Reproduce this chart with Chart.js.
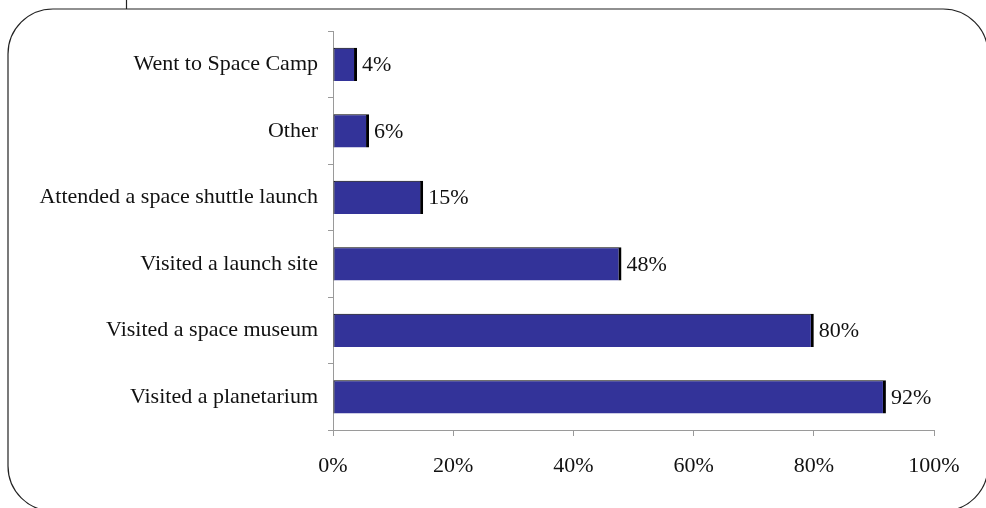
<!DOCTYPE html>
<html>
<head>
<meta charset="utf-8">
<script src="https://cdn.jsdelivr.net/npm/chart.js@4.4.0/dist/chart.umd.min.js"></script>
<style>
  html, body { margin: 0; padding: 0; background: #fff; }
  #wrap { width: 986px; height: 508px; position: relative; }
</style>
</head>
<body>
<div id="wrap"><canvas id="spaceChart" width="986" height="508"></canvas></div>
<script>
const categories = [
  'Went to Space Camp',
  'Other',
  'Attended a space shuttle launch',
  'Visited a launch site',
  'Visited a space museum',
  'Visited a planetarium'
];
const percents = [4, 6, 15, 48, 80, 92];
const tickValues = [0, 20, 40, 60, 80, 100];

const serif = '"Liberation Serif", "Times New Roman", serif';
const fontSize = 22;
const axisGray = '#9a9a9a';

// rounded frame that runs off the canvas at right and bottom
const framePlugin = {
  id: 'frame',
  beforeDraw(chart) {
    const ctx = chart.ctx;
    const x = 8, y = 9, w = 980, h = 502, r = 45;
    ctx.save();
    ctx.strokeStyle = '#222';
    ctx.lineWidth = 1.2;
    ctx.beginPath();
    ctx.moveTo(x + r, y);
    ctx.lineTo(x + w - r, y);
    ctx.arcTo(x + w, y, x + w, y + r, r);
    ctx.lineTo(x + w, y + h - r);
    ctx.arcTo(x + w, y + h, x + w - r, y + h, r);
    ctx.lineTo(x + r, y + h);
    ctx.arcTo(x, y + h, x, y + h - r, r);
    ctx.lineTo(x, y + r);
    ctx.arcTo(x, y, x + r, y, r);
    ctx.stroke();
    ctx.beginPath();
    ctx.moveTo(126.5, 0);
    ctx.lineTo(126.5, y);
    ctx.stroke();
    ctx.restore();
  }
};

const valueLabels = {
  id: 'valueLabels',
  afterDatasetsDraw(chart) {
    const ctx = chart.ctx;
    const meta = chart.getDatasetMeta(0);
    ctx.save();
    ctx.font = fontSize + 'px ' + serif;
    ctx.fillStyle = '#111';
    ctx.textAlign = 'left';
    ctx.textBaseline = 'middle';
    meta.data.forEach((bar, i) => {
      ctx.fillText(percents[i] + '%', bar.x + 5, bar.y + 1);
    });
    ctx.restore();
  }
};

new Chart(document.getElementById('spaceChart'), {
  type: 'bar',
  data: {
    labels: categories,
    datasets: [{
      data: percents,
      backgroundColor: '#333399',
      borderColor: '#000',
      borderWidth: { top: 1, right: 3, bottom: 0, left: 1 },
      borderSkipped: false,
      barPercentage: 1,
      categoryPercentage: 0.5
    }]
  },
  options: {
    indexAxis: 'y',
    responsive: false,
    animation: false,
    layout: { padding: { top: 31, right: 52, left: 0, bottom: 0 } },
    plugins: {
      legend: { display: false },
      tooltip: { enabled: false }
    },
    scales: {
      x: {
        min: 0,
        max: 100,
        afterBuildTicks(scale) {
          scale.ticks = tickValues.map(v => ({ value: v }));
        },
        afterFit(scale) { scale.height = 78; },
        border: { color: axisGray, width: 1 },
        grid: {
          drawOnChartArea: false,
          drawTicks: true,
          tickLength: 6,
          color: axisGray
        },
        ticks: {
          padding: 17,
          color: '#111',
          font: { family: serif, size: fontSize },
          callback: v => v + '%'
        }
      },
      y: {
        afterFit(scale) { scale.width = 333; },
        border: { color: axisGray, width: 1 },
        grid: {
          offset: true,
          drawOnChartArea: false,
          tickLength: 5,
          color: axisGray
        },
        ticks: {
          padding: 10,
          color: '#111',
          font: { family: serif, size: fontSize }
        }
      }
    }
  },
  plugins: [framePlugin, valueLabels]
});
</script>
</body>
</html>
